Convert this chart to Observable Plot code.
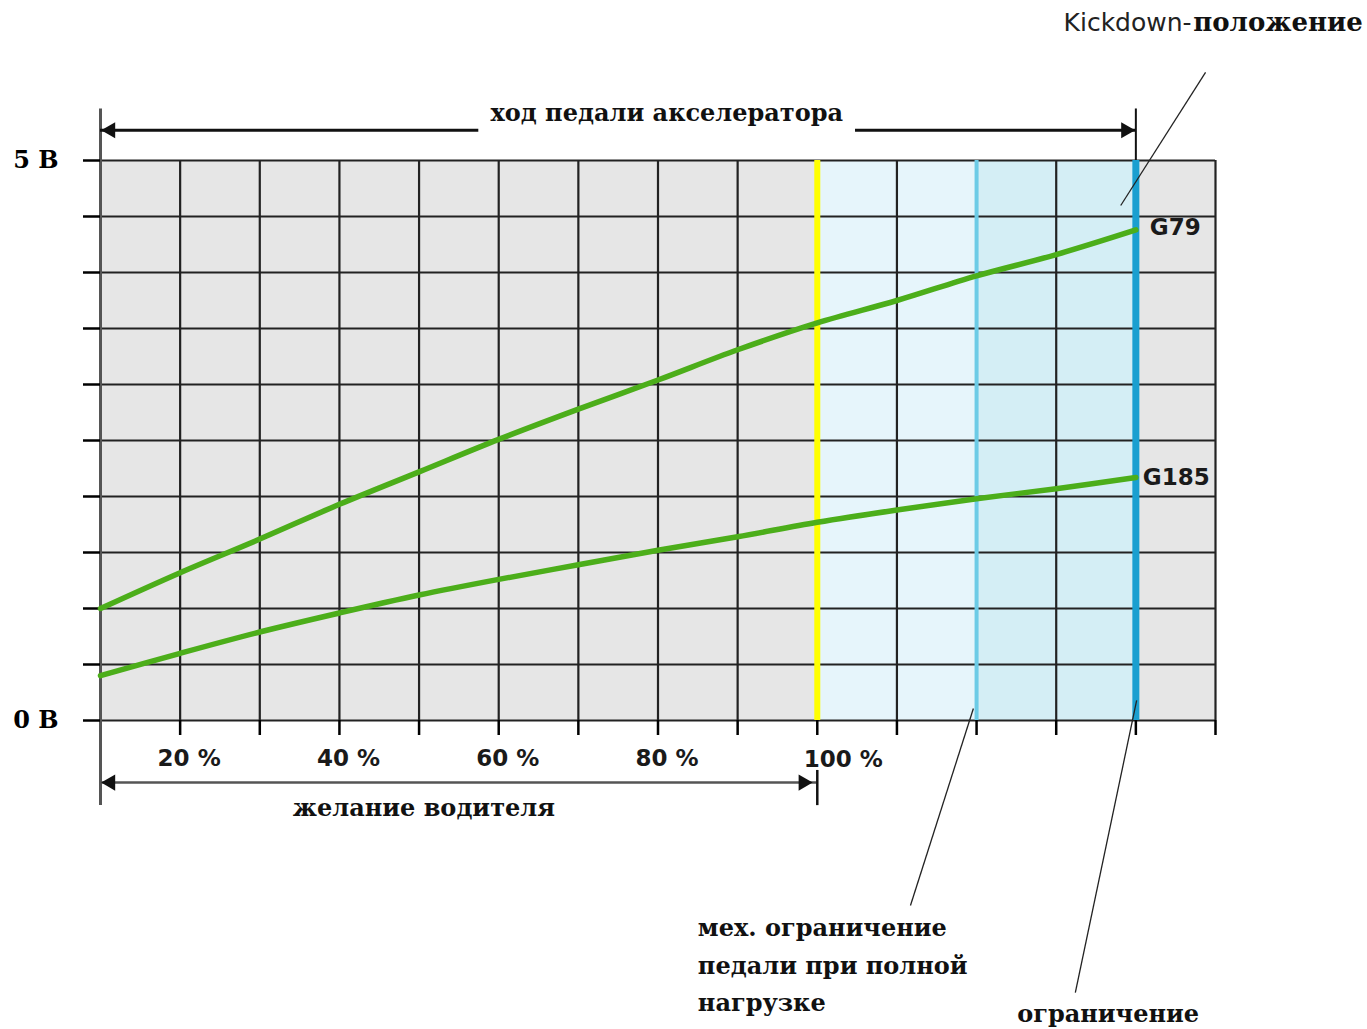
<!DOCTYPE html>
<html>
<head>
<meta charset="utf-8">
<script src="https://cdn.jsdelivr.net/npm/d3@7"></script>
<script src="https://cdn.jsdelivr.net/npm/@observablehq/plot@0.6"></script>
<style>
  html, body { margin: 0; padding: 0; background: #ffffff; }
  #chart svg { display: block; }
</style>
</head>
<body>
<div id="chart"></div>
<script>
// Pedal travel in grid steps (9 steps = 100 % driver demand, 11 = mech. stop, 13 = kickdown)
const pedalSteps = [0, 1, 2, 3, 4, 5, 6, 7, 8, 9, 10, 11, 12, 13];
// Sender voltages (V)
const g79  = [1.00, 1.32, 1.62, 1.93, 2.22, 2.51, 2.78, 3.04, 3.31, 3.55, 3.75, 3.97, 4.16, 4.38];
const g185 = [0.40, 0.60, 0.79, 0.96, 1.12, 1.26, 1.39, 1.52, 1.64, 1.77, 1.88, 1.98, 2.07, 2.17];
// Grid / ticks
const gridX = [0, 1, 2, 3, 4, 5, 6, 7, 8, 9, 10, 11, 12, 13, 14];
const gridY = [0, 0.5, 1, 1.5, 2, 2.5, 3, 3.5, 4, 4.5, 5];
const pctLabels = ["20 %", "40 %", "60 %", "80 %", "100 %"];
const pctAt = [1, 3, 5, 7, 9];
const voltLabels = {0: "0 В", 5: "5 В"};
// Limits
const fullLoadAt = 9, mechStopAt = 11, kickdownAt = 13;
const seriesNames = ["G79", "G185"];

const serif = "DejaVu Serif";
const sans = "DejaVu Sans";

const idx = pedalSteps.map((d, i) => i);

const chart = Plot.plot({
  width: 1367,
  height: 1029,
  marginLeft: 100,
  marginRight: 152,
  marginTop: 160,
  marginBottom: 309,
  x: {domain: [0, 14], axis: null},
  y: {domain: [0, 5], axis: null},
  marks: [
    // plot background
    Plot.frame({fill: "#e6e6e6", stroke: null}),
    // limit zones
    Plot.rect([fullLoadAt], {x1: d => d, x2: mechStopAt, y1: 0, y2: 5, fill: "#e6f5fb"}),
    Plot.rect([mechStopAt], {x1: d => d, x2: kickdownAt, y1: 0, y2: 5, fill: "#d4eef5"}),
    // grid
    Plot.ruleX(gridX, {y1: 0, y2: 5, stroke: "#222", strokeWidth: 2.2}),
    Plot.ruleY(gridY, {x1: 0, x2: 14, stroke: "#222", strokeWidth: 2.2}),
    // limit lines
    Plot.ruleX([fullLoadAt], {y1: 0, y2: 5, stroke: "#ffff00", strokeWidth: 6}),
    Plot.ruleX([mechStopAt], {y1: 0, y2: 5, stroke: "#6ccbe6", strokeWidth: 4}),
    Plot.ruleX([kickdownAt], {y1: 0, y2: 5, stroke: "#1a9fd0", strokeWidth: 7}),
    // left axis line
    Plot.ruleX([0], {y1: -0.76, y2: 5.46, stroke: "#555", strokeWidth: 3}),
    // y axis ticks + labels
    Plot.axisY({
      ticks: gridY, tickSize: 17, tickPadding: 25, strokeWidth: 2.5,
      tickFormat: d => voltLabels[d] ?? "",
      fontSize: 24, fontFamily: serif, fontWeight: "bold", label: null
    }),
    // x axis ticks
    Plot.axisX({
      ticks: gridX.slice(1), tickSize: 15, strokeWidth: 2.5,
      tickFormat: () => "", label: null
    }),
    // percent labels
    Plot.text(pctLabels.slice(0, 4), {
      x: (d, i) => pctAt[i], y: 0, dx: 9, dy: 38,
      fontFamily: sans, fontWeight: "bold", fontSize: 23, fill: "#1a1a1a"
    }),
    Plot.text(pctLabels.slice(4), {
      x: (d, i) => pctAt[4 + i], y: 0, dx: 26, dy: 39,
      fontFamily: sans, fontWeight: "bold", fontSize: 23, fill: "#1a1a1a"
    }),
    // sensor curves
    Plot.line(idx, {x: i => pedalSteps[i], y: i => g79[i], stroke: "#4cae1a", strokeWidth: 5.5, curve: "catmull-rom"}),
    Plot.line(idx, {x: i => pedalSteps[i], y: i => g185[i], stroke: "#4cae1a", strokeWidth: 5.5, curve: "catmull-rom"}),
    // series labels
    Plot.text([seriesNames[0]], {
      x: pedalSteps[pedalSteps.length - 1], y: g79[g79.length - 1], dx: 14, dy: -2,
      textAnchor: "start", fontFamily: sans, fontWeight: "bold", fontSize: 23, fill: "#1a1a1a"
    }),
    Plot.text([seriesNames[1]], {
      x: pedalSteps[pedalSteps.length - 1], y: g185[g185.length - 1], dx: 7,
      textAnchor: "start", fontFamily: sans, fontWeight: "bold", fontSize: 23, fill: "#1a1a1a"
    }),
    // top dimension arrow: accelerator pedal travel
    Plot.ruleY([5.27], {x1: 0, x2: 4.75, stroke: "#111", strokeWidth: 3}),
    Plot.ruleY([5.27], {x1: 9.48, x2: kickdownAt, stroke: "#111", strokeWidth: 3}),
    Plot.dot([0], {x: d => d, y: 5.27, dx: 10, symbol: "triangle", r: 6, rotate: -90, fill: "#111", stroke: null}),
    Plot.dot([kickdownAt], {x: d => d, y: 5.27, dx: -10, symbol: "triangle", r: 6, rotate: 90, fill: "#111", stroke: null}),
    Plot.ruleX([kickdownAt], {y1: 5, y2: 5.46, stroke: "#111", strokeWidth: 2}),
    Plot.text(["ход педали акселератора"], {
      x: 7.11, y: 5.42, fontFamily: serif, fontWeight: "bold", fontSize: 24, fill: "#111"
    }),
    // bottom dimension arrow: driver demand
    Plot.ruleY([-0.554], {x1: 0, x2: fullLoadAt, stroke: "#555", strokeWidth: 2.5}),
    Plot.dot([0], {x: d => d, y: -0.554, dx: 10, symbol: "triangle", r: 6, rotate: -90, fill: "#111", stroke: null}),
    Plot.dot([fullLoadAt], {x: d => d, y: -0.554, dx: -14, symbol: "triangle", r: 6, rotate: 90, fill: "#111", stroke: null}),
    Plot.ruleX([fullLoadAt], {y1: -0.446, y2: -0.76, stroke: "#111", strokeWidth: 2.5}),
    Plot.text(["желание водителя"], {
      x: 4.06, y: -0.78, fontFamily: serif, fontWeight: "bold", fontSize: 24, fill: "#111"
    }),
    // leader lines
    Plot.link([0], {x1: 13.875, y1: 5.786, x2: 12.81, y2: 4.598, stroke: "#222", strokeWidth: 1.3}),
    Plot.link([0], {x1: 10.96, y1: 0.107, x2: 10.17, y2: -1.652, stroke: "#222", strokeWidth: 1.3}),
    Plot.link([0], {x1: 13.01, y1: 0.179, x2: 12.24, y2: -2.43, stroke: "#222", strokeWidth: 1.3}),
    // annotations
    Plot.text(["Kickdown-"], {
      x: 13.70, y: 6.232, textAnchor: "end", fontFamily: sans, fontSize: 25, fill: "#222"
    }),
    Plot.text(["положение"], {
      x: 13.72, y: 6.232, textAnchor: "start", fontFamily: serif, fontWeight: "bold", fontSize: 26, fill: "#111"
    }),
    Plot.text(["мех. ограничение\nпедали при полной\nнагрузке"], {
      x: 7.50, y: -2.152, textAnchor: "start", lineHeight: 1.56,
      fontFamily: serif, fontWeight: "bold", fontSize: 24, fill: "#111"
    }),
    Plot.text(["ограничение"], {
      x: 11.51, y: -2.625, textAnchor: "start",
      fontFamily: serif, fontWeight: "bold", fontSize: 24, fill: "#111"
    })
  ]
});
document.getElementById("chart").appendChild(chart);
</script>
</body>
</html>
